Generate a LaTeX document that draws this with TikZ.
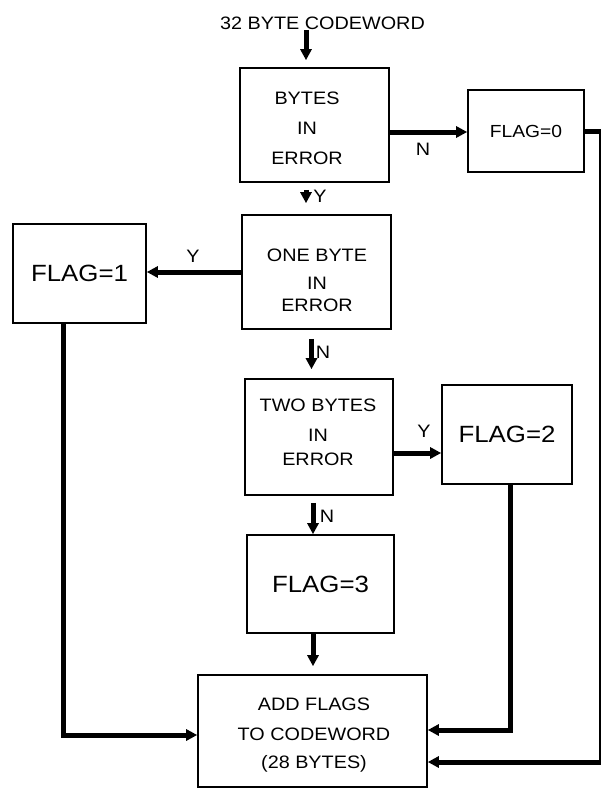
\documentclass[tikz,border=0pt]{standalone}
\usepackage{fontspec}
\setmainfont{Liberation Sans}[FakeStretch=1.1]
\usetikzlibrary{arrows.meta,calc}
\begin{document}
\begin{tikzpicture}[x=1pt,y=-1pt,
  box/.style={draw,line width=1.6pt,inner sep=0pt},
  txt/.style={align=center,inner sep=0pt,font=\fontsize{18}{30}\selectfont},
  flagtxt/.style={font=\fontsize{23.5}{28}\selectfont},
  smallflag/.style={font=\fontsize{17.5}{22}\selectfont},
  lab/.style={inner sep=0pt,font=\fontsize{18}{22}\selectfont},
  flow/.style={line width=5pt,-{Triangle[length=11pt,width=11pt]}},
  wire/.style={line width=5pt}]
\useasboundingbox (0,0) rectangle (600,790);

% title
\node[lab] (title) at (322.5,23.5) {32 BYTE CODEWORD};

% boxes
\node[box,minimum width=149pt,minimum height=114pt] (b1) at (314.5,125) {};
\node[txt] (b1t) at (307,128.5) {BYTES\\IN\\ERROR};

\node[box,smallflag,minimum width=116pt,minimum height=82pt] (f0) at (526,131) {FLAG=0};

\node[box,minimum width=149pt,minimum height=114pt] (b2) at (316.5,272) {};
\node[txt,font=\fontsize{18}{28}\selectfont] (b2t) at (317,280) {ONE BYTE\\IN\\[-6pt]ERROR};

\node[box,flagtxt,minimum width=133pt,minimum height=99pt] (f1) at (79.5,273.5) {FLAG=1};

\node[box,minimum width=148pt,minimum height=116pt] (b3) at (319,437) {};
\node[txt] (b3t) at (318,432.5) {TWO BYTES\\IN\\[-6pt]ERROR};

\node[box,flagtxt,minimum width=130pt,minimum height=99pt] (f2) at (507,434.5) {FLAG=2};

\node[box,flagtxt,minimum width=147pt,minimum height=98pt] (f3) at (320.5,584) {FLAG=3};

\node[box,minimum width=229pt,minimum height=112pt] (bot) at (312.5,731) {};
\node[txt] (bott) at (314,735) {ADD FLAGS\\TO CODEWORD\\[-2pt](28 BYTES)};

% connectors
\draw[flow,shorten >=7pt] ($(title.south)+(-16.5,0)$) coordinate (t0) -- (t0 |- b1.north);
\draw[flow,shorten <=7pt,shorten >=11pt] ($(b1.south)+(-8.5,0)$) coordinate (y0) -- (y0 |- b2.north);
\draw[flow] ($(b1.east)+(0,7)$) coordinate (n0) -- (n0 -| f0.west);
\draw[wire,-{Triangle[length=11pt,width=11pt]}] (f0.east) -- ++(17,0) |- ($(bot.east)+(0,31)$);

\draw[flow] (b2.west) -- (b2.west -| f1.east);
\draw[wire,-{Triangle[length=11pt,width=11pt]}] ($(f1.south)+(-16.5,0)$) |- ($(bot.west)+(0,4)$);
\draw[flow,shorten <=9pt,shorten >=9pt] ($(b2.south)+(-5,0)$) coordinate (n1) -- (n1 |- b3.north);

\draw[flow] ($(b3.east)+(0,16)$) coordinate (y2) -- (y2 -| f2.west);
\draw[wire,-{Triangle[length=11pt,width=11pt]}] ($(f2.south)+(3,0)$) |- ($(bot.east)+(0,-1)$);
\draw[flow,shorten <=7pt] ($(b3.south)+(-6,0)$) coordinate (n2) -- (n2 |- f3.north);

\draw[flow,shorten >=8pt] ($(f3.south)+(-7.5,0)$) coordinate (f3o) -- (f3o |- bot.north);

% labels
\node[lab] (lN0) at (423,149) {N};
\node[lab] (lY0) at (320,196) {Y};
\node[lab] (lY1) at (193,256) {Y};
\node[lab] (lN1) at (323,352) {N};
\node[lab] (lY2) at (424,431) {Y};
\node[lab] (lN2) at (327,516) {N};
\end{tikzpicture}
\end{document}
